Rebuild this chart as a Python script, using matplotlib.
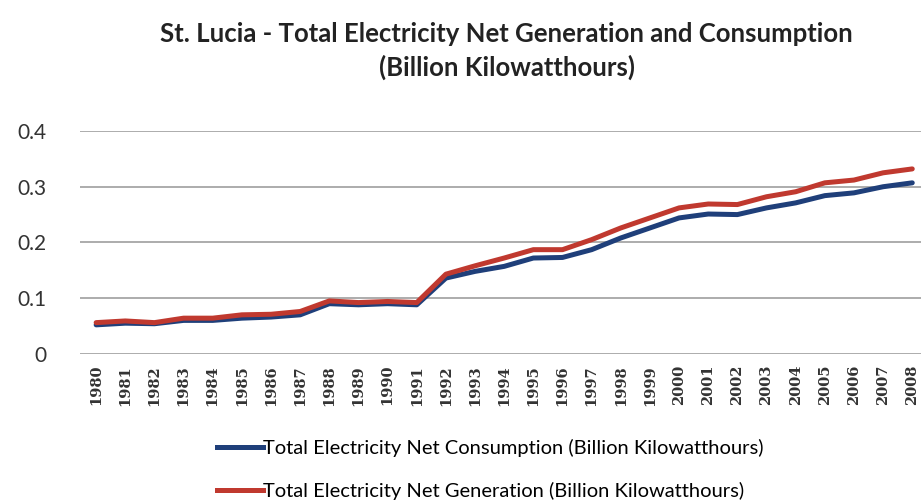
import matplotlib
matplotlib.use("Agg")
import matplotlib.pyplot as plt
from matplotlib.lines import Line2D

plt.rcParams['font.family'] = ['Lato', 'DejaVu Sans']

YEARS = list(range(1980, 2009))
# billion kWh
CONSUMPTION = [0.052, 0.055, 0.054, 0.060, 0.060, 0.064, 0.066, 0.070, 0.090, 0.088,
               0.090, 0.088, 0.136, 0.148, 0.157, 0.172, 0.173, 0.187, 0.208, 0.226,
               0.244, 0.251, 0.250, 0.262, 0.271, 0.284, 0.289, 0.300, 0.307]
GENERATION = [0.056, 0.059, 0.056, 0.064, 0.064, 0.070, 0.071, 0.076, 0.095, 0.092,
              0.094, 0.092, 0.143, 0.158, 0.172, 0.187, 0.187, 0.205, 0.226, 0.244,
              0.262, 0.269, 0.268, 0.282, 0.291, 0.307, 0.312, 0.325, 0.332]
Y_TICKS = [0, 0.1, 0.2, 0.3, 0.4]
Y_LABELS = ['0', '0.1', '0.2', '0.3', '0.4']

BLUE = '#1f3f7a'
RED = '#c0392f'

fig = plt.figure(figsize=(9.21, 5.04), dpi=100)
ax = fig.add_axes([0.087, 0.298, 0.913, 0.442])

ax.plot(YEARS, CONSUMPTION, color=BLUE, lw=3.6, solid_capstyle='round')
ax.plot(YEARS, GENERATION, color=RED, lw=3.6, solid_capstyle='round')

ax.set_xlim(1979.45, 2008.3)
ax.set_ylim(0, 0.4)
ax.set_yticks(Y_TICKS)
ax.set_yticklabels(Y_LABELS, fontsize=15, color='#333333')
ax.set_xticks(YEARS)
ax.set_xticklabels([str(y) for y in YEARS], rotation=90, fontsize=10.5,
                   family=['DejaVu Serif'], fontweight='bold', color='#333333')
ax.tick_params(length=0, pad=8)
ax.tick_params(axis='y', pad=24)
ax.grid(axis='y', color='#a6a6a6', lw=1.3)
ax.set_axisbelow(True)
for s in ax.spines.values():
    s.set_visible(False)

fig.text(0.55, 0.932, 'St. Lucia - Total Electricity Net Generation and Consumption',
         ha='center', va='center', fontsize=18.5, fontweight='bold', color='#222222')
fig.text(0.55, 0.866, '(Billion Kilowatthours)',
         ha='center', va='center', fontsize=18.5, fontweight='bold', color='#222222')

handles = [Line2D([], [], color=BLUE, lw=3.6),
           Line2D([], [], color=RED, lw=3.6)]
labels = ['Total Electricity Net Consumption (Billion Kilowatthours)',
          'Total Electricity Net Generation (Billion Kilowatthours)']
fig.legend(handles, labels, loc='center', bbox_to_anchor=(0.532, 0.068),
           frameon=False, fontsize=14.5, handlelength=2.3, handletextpad=0.0,
           labelspacing=1.25)

fig.savefig('out.png', dpi=100)
